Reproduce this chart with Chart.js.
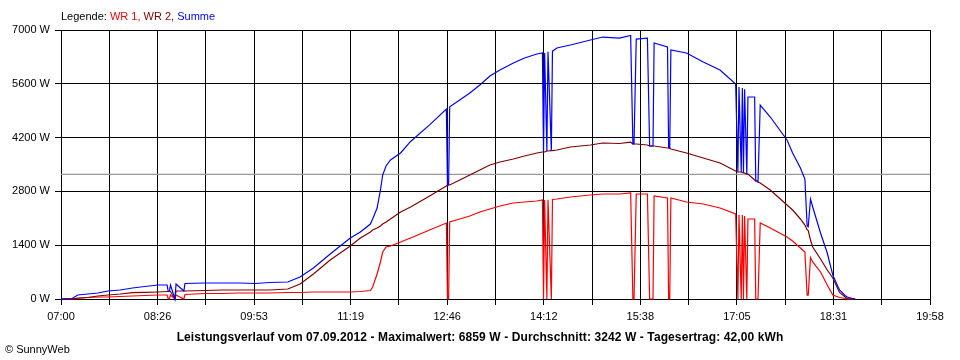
<!DOCTYPE html>
<html>
<head>
<meta charset="utf-8">
<script src="https://cdn.jsdelivr.net/npm/chart.js@4.4.1/dist/chart.umd.min.js"></script>
<style>
  html, body { margin: 0; padding: 0; background: #fff; }
  #wrap { position: relative; width: 960px; height: 360px; overflow: hidden; font-family: "Liberation Sans", Arial, sans-serif; }
  canvas { position: absolute; left: 0; top: 0; }
  .txt { position: absolute; white-space: nowrap; line-height: 1; color: #000; }
  #legend { left: 61px; top: 11px; font-size: 11px; }
  #caption { left: 0; width: 960px; text-align: center; top: 331px; font-size: 12px; font-weight: bold; letter-spacing: 0.1px; }
  #copy { left: 5px; top: 344px; font-size: 11px; }
</style>
</head>
<body>
<div id="wrap">
  <canvas id="c" width="960" height="360"></canvas>
  <div id="legend" class="txt">Legende: <span style="color:#ff0000">WR 1,</span> <span style="color:#800000">WR 2,</span> <span style="color:#0000ff">Summe</span></div>
  <div id="caption" class="txt">Leistungsverlauf vom 07.09.2012 - Maximalwert: 6859 W - Durchschnitt: 3242 W - Tagesertrag: 42,00 kWh</div>
  <div id="copy" class="txt">© SunnyWeb</div>
</div>
<script>
// ---- data ----
const times = ['07:00','07:10','07:15','07:24','07:33','07:42','07:53','08:04','08:15','08:27',
  '08:35','08:36','08:37','08:38','08:42','08:43','08:50','08:51','09:09','09:24',
  '09:40','09:54','10:07','10:23','10:34','10:46','11:01','11:19','11:28','11:37',
  '11:39','11:43','11:46','11:48','11:51','11:55','12:04','12:13','12:30','12:45',
  '12:46','12:47','12:48','12:57','13:06','13:15','13:24','13:33','13:45','13:55',
  '14:06','14:11','14:12','14:13','14:15','14:16','14:19','14:20','14:24','14:36',
  '14:54','15:05','15:20','15:30','15:32','15:33','15:35','15:45','15:47','15:48',
  '15:49','15:50','15:51','16:03','16:04','16:05','16:06','16:20','16:35','16:50',
  '17:04','17:06','17:07','17:09','17:10','17:11','17:12','17:14','17:15','17:21',
  '17:22','17:23','17:24','17:26','17:35','17:50','17:55','18:02','18:06','18:08',
  '18:09','18:11','18:13','18:20','18:26','18:31','18:37','18:42','18:44','18:48',
  '18:51'];
const wr1 = [0,0,13,39,52,52,65,78,91,104,
  104,0,0,104,0,104,0,117,143,143,
  156,156,156,169,169,182,182,182,195,221,
  312,650,963,1223,1353,1379,1483,1587,1795,1977,
  0,0,2004,2082,2160,2264,2342,2420,2498,2524,
  2550,2576,0,2576,0,2580,0,2590,2602,2654,
  2706,2732,2732,2760,0,0,2732,2732,0,0,
  0,0,2680,2628,0,0,2628,2524,2472,2368,
  2212,0,2186,0,2186,0,2160,0,2082,2082,
  0,0,0,1977,1847,1613,1509,1327,1223,100,
  100,1080,963,703,364,104,39,13,0,0,
  0];
const wr2 = [0,0,26,39,78,104,130,165,170,182,
  195,195,195,195,0,208,208,208,221,234,
  234,234,234,260,390,650,1015,1379,1587,1743,
  1795,1847,1899,1951,2004,2082,2264,2394,2680,2940,
  2966,2966,2966,3096,3226,3357,3487,3565,3643,3721,
  3799,3825,3825,3825,3851,3851,3860,3860,3877,3955,
  4007,4059,4046,4080,4033,4033,4033,4007,3981,3981,
  3981,3981,3981,3929,3929,3929,3903,3799,3669,3539,
  3331,3305,3305,3305,3290,3290,3279,3252,3252,3096,
  3070,3070,3044,3018,2836,2446,2316,2082,1925,1800,
  1780,1535,1353,1041,755,546,170,52,13,0,
  0];
const summe = [0,13,104,130,156,208,234,286,325,364,
  364,195,195,364,0,390,208,403,416,416,
  416,403,429,442,572,806,1171,1587,1743,1951,
  2082,2368,2836,3226,3461,3617,3799,4100,4530,4944,
  2966,2966,5000,5178,5360,5568,5802,5959,6141,6271,
  6375,6401,3825,6401,3851,6431,3860,6450,6531,6609,
  6739,6817,6791,6859,4033,4033,6765,6791,3981,3981,
  3981,3981,6661,6557,3929,3929,6479,6401,6167,5959,
  5594,3305,5516,3305,5490,3290,5460,3252,5256,5256,
  3070,3070,3044,5048,4736,4137,3799,3409,3120,1900,
  1880,2600,2394,1717,1197,620,234,91,52,20,
  0];
const average = 3242;
const xTickLabels = ['07:00','08:26','09:53','11:19','12:46','14:12','15:38','17:05','18:31','19:58'];
const yTickValues = [0,1400,2800,4200,5600,7000];
const xStart = '07:00', xEnd = '19:58';

// ---- chart ----
const toMin = s => { const p = s.split(':'); return (+p[0]) * 60 + (+p[1]); };
const xMin = toMin(xStart), xMax = toMin(xEnd);
const pts = arr => times.map((t, i) => ({ x: toMin(t), y: arr[i] }));
const FONT = { family: '"Liberation Sans", Arial, sans-serif', size: 11 };

new Chart(document.getElementById('c'), {
  type: 'line',
  data: {
    datasets: [
      { label: 'Summe', data: pts(summe), borderColor: '#0000ff', order: 0 },
      { label: 'WR 2', data: pts(wr2), borderColor: '#800000', order: 1 },
      { label: 'WR 1', data: pts(wr1), borderColor: '#ff0000', order: 2 },
      { label: 'Durchschnitt', data: [{ x: xMin, y: average }, { x: xMax, y: average }], borderColor: '#999999', order: 3 }
    ]
  },
  options: {
    responsive: false,
    animation: false,
    layout: { padding: { top: 30, right: 30, left: 0, bottom: 0 } },
    elements: {
      point: { radius: 0, hoverRadius: 0 },
      line: { borderWidth: 1.2, tension: 0, fill: false }
    },
    datasets: { line: { clip: 3 } },
    plugins: { legend: { display: false }, tooltip: { enabled: false }, title: { display: false } },
    scales: {
      x: {
        type: 'linear',
        min: xMin, max: xMax,
        afterBuildTicks: s => {
          const n = (xTickLabels.length - 1) * 2;
          s.ticks = Array.from({ length: n + 1 }, (_, i) => ({ value: xMin + i * (xMax - xMin) / n }));
        },
        afterFit: s => { s.height = 61; },
        ticks: {
          autoSkip: false, maxRotation: 0, minRotation: 0, padding: 5, color: '#000', font: FONT,
          callback: (v, i) => (i % 2 === 0 ? xTickLabels[i / 2] : '')
        },
        grid: { color: '#000', lineWidth: 1, tickLength: 6, drawTicks: true },
        border: { display: true, color: '#000', width: 1 }
      },
      y: {
        min: 0, max: 7000,
        afterBuildTicks: s => { s.ticks = yTickValues.map(v => ({ value: v })); },
        afterFit: s => { s.width = 61; },
        ticks: { padding: 5, color: '#000', font: FONT, callback: v => v + ' W' },
        grid: { color: '#000', lineWidth: 1, tickLength: 6, drawTicks: true },
        border: { display: true, color: '#000', width: 1 }
      }
    }
  }
});
</script>
</body>
</html>
